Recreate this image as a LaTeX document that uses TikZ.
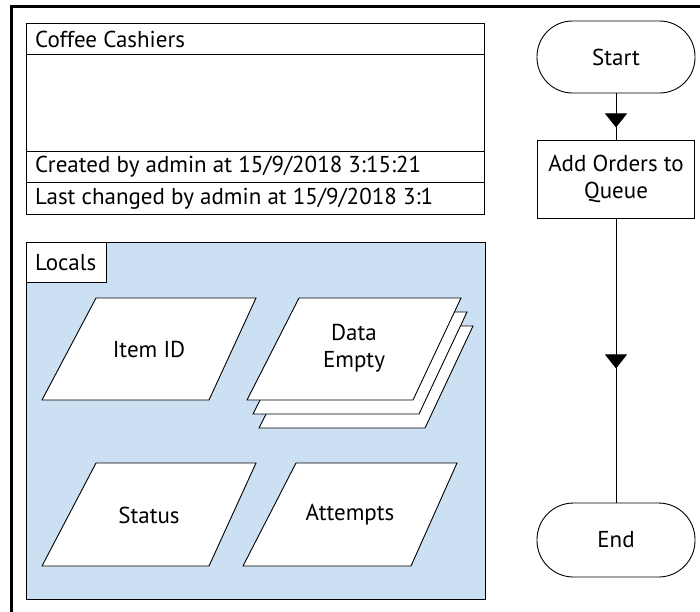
\documentclass[tikz,border=0pt]{standalone}
\usepackage{fontspec}
\setmainfont{PT Sans}
\usetikzlibrary{arrows.meta,decorations.markings}
\definecolor{localsblue}{RGB}{204,224,243}
\tikzset{
  thinline/.style={draw=black,line width=0.9pt},
  lbl/.style={font=\fontsize{23}{27.5}\selectfont,inner sep=0pt,text=black},
  rowtext/.style={lbl,anchor=west},
  term/.style={thinline,rounded corners=35.5pt,minimum width=158pt,minimum height=72pt,inner sep=0pt,lbl,fill=white},
  procbox/.style={thinline,minimum width=157pt,minimum height=78pt,inner sep=0pt,lbl,fill=white,align=center},
  dataflow/.style={thinline,postaction={decorate}},
  para/.style={thinline,fill=white,line join=miter},
}
\begin{document}
\begin{tikzpicture}[x=1pt,y=-1pt]
\useasboundingbox (0,0) rectangle (700,611);
\clip (0,0) rectangle (700,611);
\fill[white] (0,0) rectangle (700,611);
% outer frame
\draw[line width=3pt] (11,6.5) rectangle (730,640);
% title box
\draw[thinline] (26,23) rectangle (484,214);
\draw[thinline] (26,54) -- (484,54);
\draw[thinline] (26,151) -- (484,151);
\draw[thinline] (26,182) -- (484,182);
\node[rowtext] (title) at (35,39) {Coffee Cashiers};
\node[rowtext] (created) at (35,167) {Created by admin at 15/9/2018 3:15:21};
\node[rowtext] (changed) at (35,198.5) {Last changed by admin at 15/9/2018 3:1};
% locals
\draw[thinline,fill=localsblue] (26,242) rectangle (485,599);
\draw[thinline,fill=white] (26,242) rectangle (106,282);
\node[rowtext] (locals) at (35,262.5) {Locals};
% Item ID
\draw[para] (96,298) -- (256,298) -- (209,400) -- (42,400) -- cycle;
\node[lbl] (itemid) at (149,349) {Item ID};
% Data Empty stack
\draw[para] (311,326) -- (473,326) -- (425,428) -- (259,428) -- cycle;
\draw[para] (305,312) -- (467,312) -- (419,414) -- (253,414) -- cycle;
\draw[para] (299,298) -- (461,298) -- (413,400) -- (247,400) -- cycle;
\node[lbl,align=center] (data) at (354,348) {Data\\Empty};
% Status
\draw[para] (96,463) -- (256,463) -- (209,566) -- (42,566) -- cycle;
\node[lbl] (status) at (149,515) {Status};
% Attempts
\draw[para] (296,463) -- (457,463) -- (411,566) -- (243,566) -- cycle;
\node[lbl] (attempts) at (350,515) {Attempts};
% flow
\node[term] (start) at (616,57) {Start};
\node[procbox] (add) at (616,179) {Add Orders to\\Queue};
\node[term,rounded corners=36.5pt,minimum height=74pt] (end) at (616,540) {End};
\draw[dataflow,decoration={markings,mark=at position 34pt with {\arrow{Triangle[width=22pt,length=14pt]}}}] (start.south) -- (add.north);
\draw[dataflow,decoration={markings,mark=at position 150pt with {\arrow{Triangle[width=22pt,length=14pt]}}}] (add.south) -- (end.north);
\end{tikzpicture}
\end{document}
